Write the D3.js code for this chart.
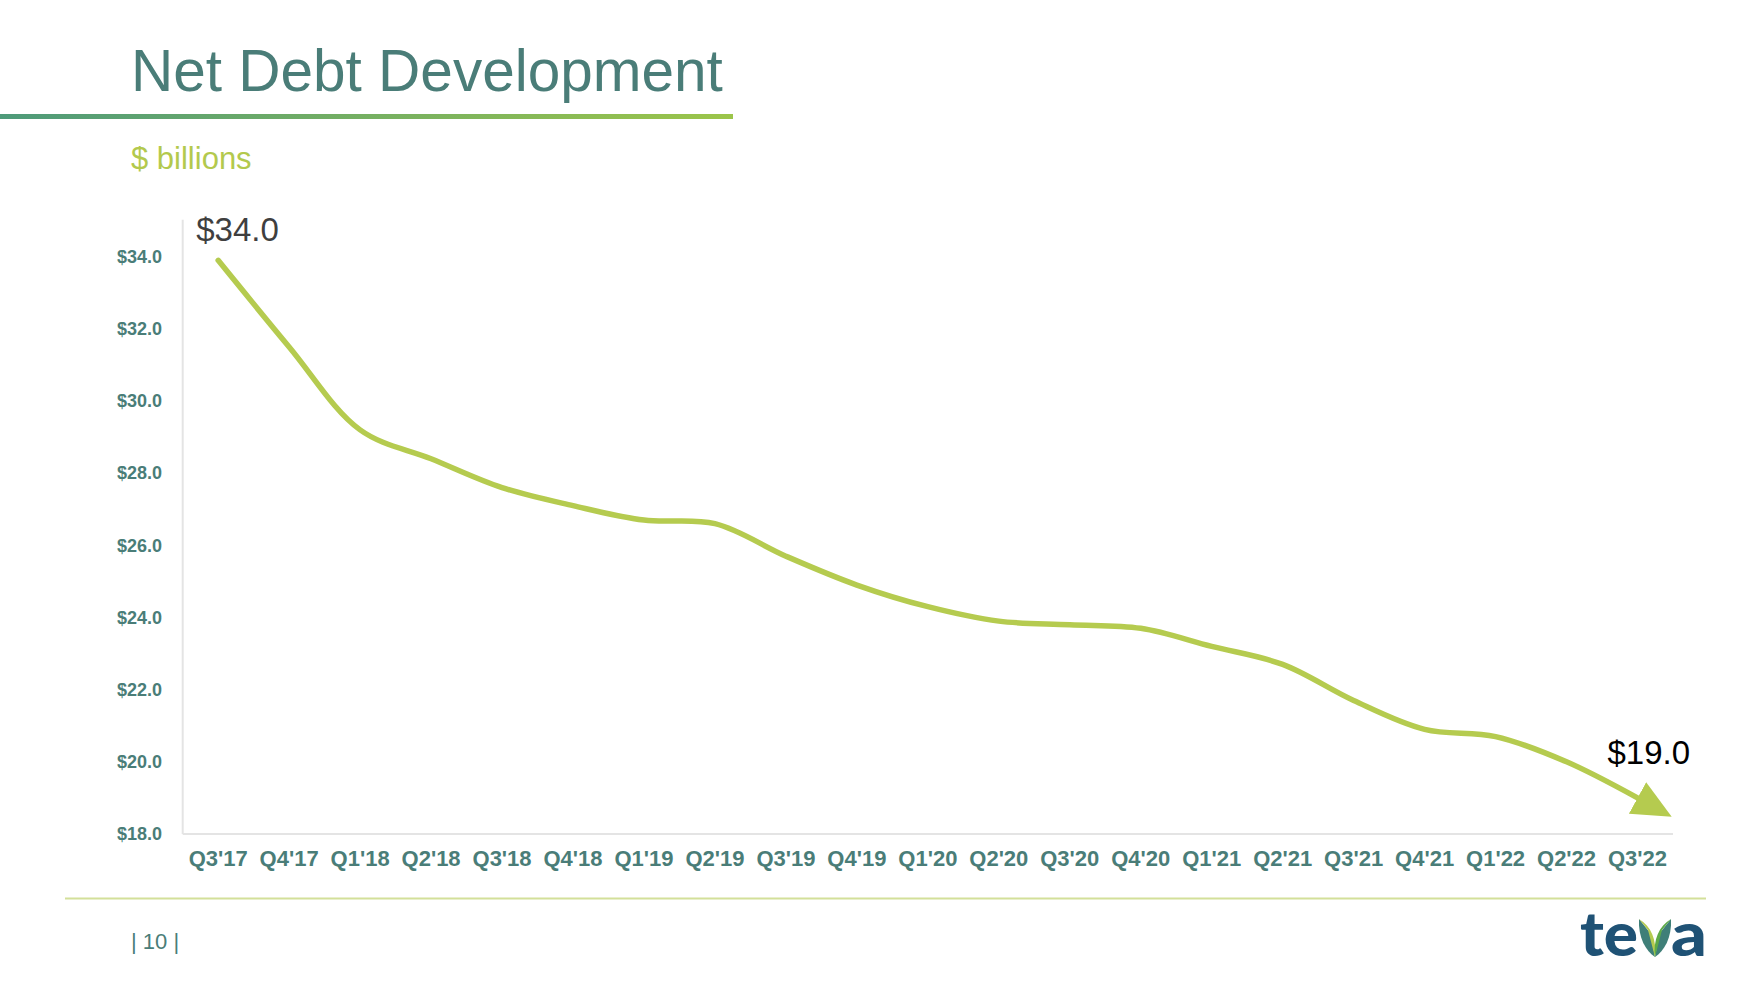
<!DOCTYPE html>
<html>
<head>
<meta charset="utf-8">
<script src="https://cdn.jsdelivr.net/npm/d3@7"></script>
<style>
  html, body { margin: 0; padding: 0; background: #ffffff; }
  svg { display: block; font-family: "Liberation Sans", Arial, sans-serif; }
</style>
</head>
<body>
<svg id="chart" width="1754" height="982"></svg>
<script>
// ---- data ----
const quarters = ["Q3'17","Q4'17","Q1'18","Q2'18","Q3'18","Q4'18","Q1'19","Q2'19","Q3'19","Q4'19",
                  "Q1'20","Q2'20","Q3'20","Q4'20","Q1'21","Q2'21","Q3'21","Q4'21","Q1'22","Q2'22","Q3'22"];
const netDebt = [33.9, 31.5, 29.2, 28.4, 27.6, 27.1, 26.7, 26.6, 25.7, 24.9,
                 24.3, 23.9, 23.8, 23.7, 23.2, 22.7, 21.7, 20.9, 20.7, 20.0, 19.0];
const yTicks = [18, 20, 22, 24, 26, 28, 30, 32, 34];
const startLabel = "$34.0";
const endLabel = "$19.0";
const titleText = "Net Debt Development";
const subtitleText = "$ billions";
const pageText = "| 10 |";

// ---- styles ----
const teal = "#4A7D78";
const lineGreen = "#B5CB4F";

const svg = d3.select("#chart");
const defs = svg.append("defs");

// title underline gradient
const grad = defs.append("linearGradient").attr("id", "ulGrad").attr("x1", "0%").attr("x2", "100%");
grad.append("stop").attr("offset", "0%").attr("stop-color", "#4E9A7A");
grad.append("stop").attr("offset", "100%").attr("stop-color", "#9CC54A");

// title
svg.append("text").attr("x", 131).attr("y", 91)
  .attr("font-size", 58.5).attr("fill", teal).text(titleText);
svg.append("rect").attr("x", 0).attr("y", 114).attr("width", 733).attr("height", 5)
  .attr("fill", "url(#ulGrad)");

// subtitle
svg.append("text").attr("x", 131).attr("y", 169)
  .attr("font-size", 31).attr("fill", "#B3C94D").text(subtitleText);

// scales
const x = d3.scaleBand().domain(quarters).range([182.7, 1673]);
const y = d3.scaleLinear().domain([18, 34]).range([834, 256.7]);
const cx = q => x(q) + x.bandwidth() / 2;

// y axis vertical line
svg.append("line").attr("x1", 182.7).attr("x2", 182.7)
  .attr("y1", y.range()[1] - 37).attr("y2", y.range()[0])
  .attr("stroke", "#e4e4e4").attr("stroke-width", 2);
// x axis line
svg.append("line").attr("x1", x.range()[0]).attr("x2", x.range()[1])
  .attr("y1", y(18)).attr("y2", y(18))
  .attr("stroke", "#e4e4e4").attr("stroke-width", 2);

// y axis labels
const yAxis = d3.axisLeft(y).tickValues(yTicks).tickSize(0).tickPadding(0)
  .tickFormat(d => "$" + d3.format(".1f")(d));
const gy = svg.append("g").attr("transform", "translate(162,0)").call(yAxis);
gy.select(".domain").remove();
gy.selectAll("text").attr("font-family", "'Liberation Sans', Arial, sans-serif")
  .attr("font-size", 18).attr("font-weight", "bold").attr("fill", teal);

// x axis labels
const xAxis = d3.axisBottom(x).tickSize(0).tickPadding(0);
const gx = svg.append("g").attr("transform", "translate(0,850)").call(xAxis);
gx.select(".domain").remove();
gx.selectAll("text").attr("font-family", "'Liberation Sans', Arial, sans-serif")
  .attr("font-size", 22).attr("font-weight", "bold").attr("fill", teal);

// arrow marker
defs.append("marker").attr("id", "arrowHead")
  .attr("markerUnits", "userSpaceOnUse")
  .attr("markerWidth", 40).attr("markerHeight", 36)
  .attr("refX", 0).attr("refY", 18).attr("orient", "auto")
  .append("path").attr("d", "M0,0 L39,18 L0,36 Z").attr("fill", lineGreen);

// line
const line = d3.line()
  .x((d, i) => cx(quarters[i]))
  .y(d => y(d))
  .curve(d3.curveCatmullRom.alpha(0.5));
svg.append("path").datum(netDebt)
  .attr("d", line)
  .attr("fill", "none").attr("stroke", lineGreen).attr("stroke-width", 5.5)
  .attr("stroke-linecap", "round").attr("stroke-linejoin", "round")
  .attr("marker-end", "url(#arrowHead)");

// annotations
svg.append("text").attr("x", cx(quarters[0]) - 22).attr("y", y(netDebt[0]) - 19)
  .attr("font-size", 33).attr("fill", "#3F3F3F").text(startLabel);
const last = quarters.length - 1;
svg.append("text").attr("x", cx(quarters[last]) - 30).attr("y", y(netDebt[last]) - 34)
  .attr("font-size", 33).attr("fill", "#000000").text(endLabel);

// footer line
svg.append("line").attr("x1", 65).attr("x2", 1706).attr("y1", 898.5).attr("y2", 898.5)
  .attr("stroke", "#D3E09A").attr("stroke-width", 2);

// page number
svg.append("text").attr("x", 131).attr("y", 949).attr("font-size", 22)
  .attr("fill", teal).text(pageText);

// teva logo
const logo = svg.append("g");
const navy = "#1F5275";
logo.append("text").attr("x", 1580).attr("y", 956).attr("font-family", "Lato, 'Open Sans', sans-serif")
  .attr("font-weight", 900).attr("font-size", 60).attr("fill", navy)
  .attr("textLength", 58).attr("lengthAdjust", "spacingAndGlyphs").text("te");
logo.append("text").attr("x", 1671).attr("y", 956).attr("font-family", "Lato, 'Open Sans', sans-serif")
  .attr("font-weight", 900).attr("font-size", 60).attr("fill", navy)
  .attr("textLength", 36).attr("lengthAdjust", "spacingAndGlyphs").text("a");
// leaves (v)
logo.append("path").attr("d", "M1639,919 C1638,938 1646,951 1655,957 L1651,934 Z").attr("fill", "#3F7F78");
logo.append("path").attr("d", "M1639,919 C1651,926 1657,940 1655,957 L1648,930 Z").attr("fill", "#B5CB4F");
logo.append("path").attr("d", "M1671,919 C1672,938 1664,951 1655,957 L1659,934 Z").attr("fill", "#3F7F78");
logo.append("path").attr("d", "M1671,919 C1659,926 1653,940 1655,957 L1662,930 Z").attr("fill", "#5DAA48");
</script>
</body>
</html>
